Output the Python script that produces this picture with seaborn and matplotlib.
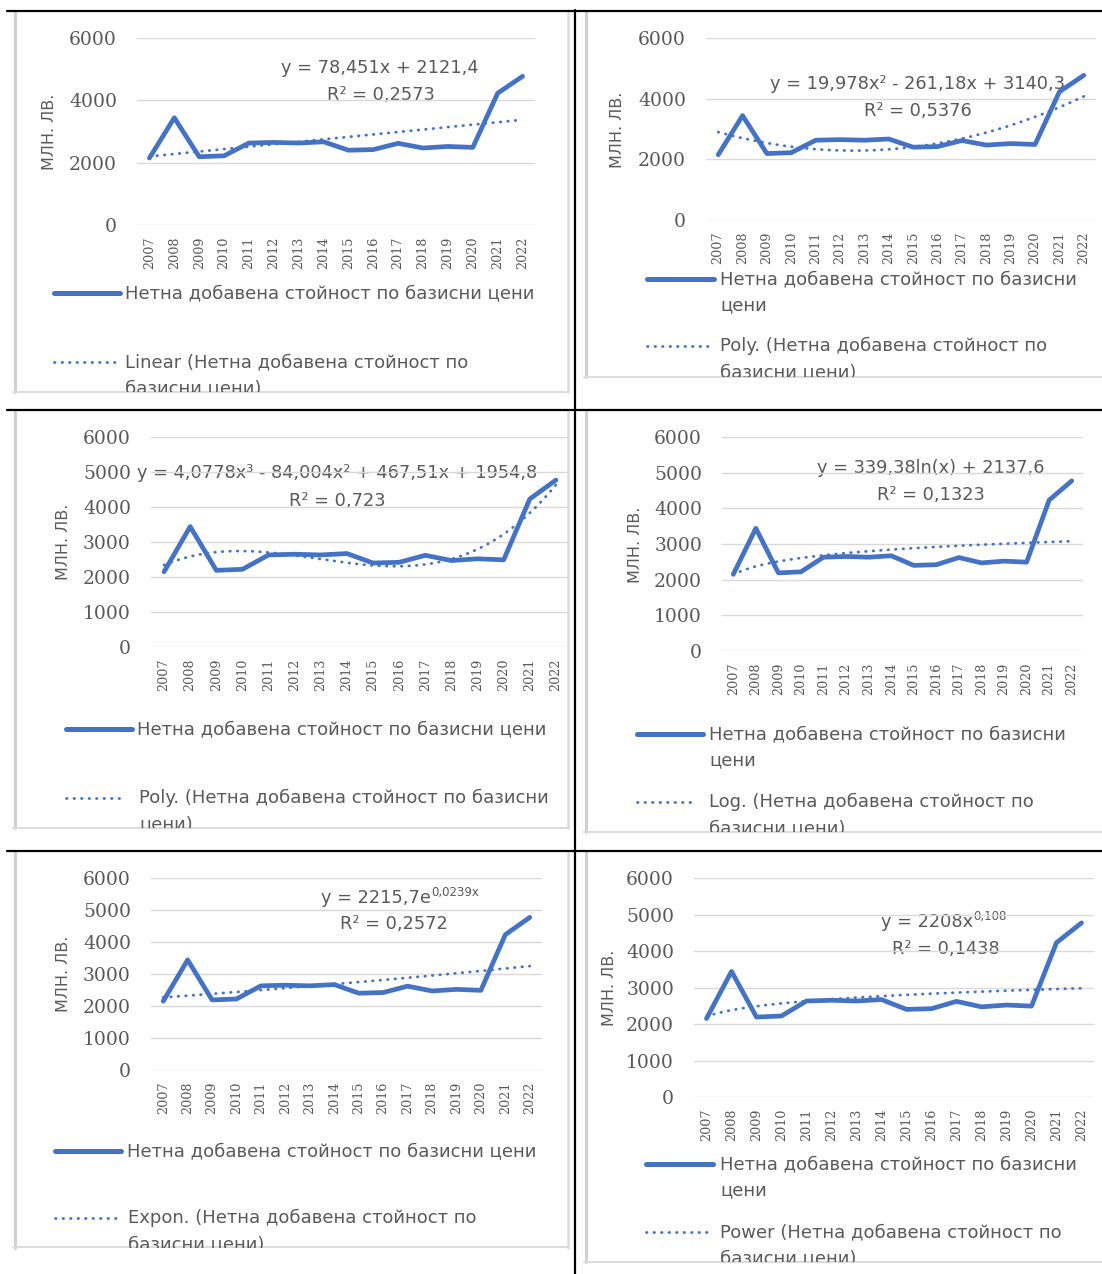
import numpy as np
import pandas as pd
import matplotlib
matplotlib.use('Agg')
import matplotlib.pyplot as plt
import seaborn as sns

# ---------------- data ----------------
years = list(range(2007, 2023))
net_value = [2150, 3440, 2190, 2220, 2630, 2650, 2630, 2670,
             2400, 2420, 2620, 2470, 2520, 2490, 4230, 4770]

# trendline coefficients as printed on the charts (x = 1..16)
linear_coef = [78.451, 2121.4]
poly2_coef = [19.978, -261.18, 3140.3]
poly3_coef = [4.0778, -84.004, 467.51, 1954.8]
log_coef = [339.38, 2137.6]
expon_coef = [2215.7, 0.0239]
power_coef = [2208, 0.108]

trend_kinds = ['linear', 'poly2', 'poly3', 'log', 'expon', 'power']
eq_base = ['y = 78,451x + 2121,4',
           'y = 19,978x² - 261,18x + 3140,3',
           'y = 4,0778x³ - 84,004x² + 467,51x + 1954,8',
           'y = 339,38ln(x) + 2137,6',
           'y = 2215,7e',
           'y = 2208x']
eq_sup = ['', '', '', '', '0,0239x', '0,108']
r2_text = ['R² = 0,2573', 'R² = 0,5376', 'R² = 0,723',
           'R² = 0,1323', 'R² = 0,2572', 'R² = 0,1438']

series_label = ['Нетна добавена стойност по базисни цени',
                'Нетна добавена стойност по базисни\nцени',
                'Нетна добавена стойност по базисни цени',
                'Нетна добавена стойност по базисни\nцени',
                'Нетна добавена стойност по базисни цени',
                'Нетна добавена стойност по базисни\nцени']
trend_label = ['Linear (Нетна добавена стойност по\nбазисни цени)',
               'Poly. (Нетна добавена стойност по\nбазисни цени)',
               'Poly. (Нетна добавена стойност по базисни\nцени)',
               'Log. (Нетна добавена стойност по\nбазисни цени)',
               'Expon. (Нетна добавена стойност по\nбазисни цени)',
               'Power (Нетна добавена стойност по\nбазисни цени)']
y_title = 'МЛН. ЛВ.'

# ---------------- layout (pixels, origin top-left) ----------------
W, H = 1102, 1274
panels = [
    dict(frame=(13, 12, 569, 392), plot=(137, 38, 535, 225), step=2000,
         ylab=(49, 132), eq=(380, 68), r2=(381, 95),
         solid=(54, 120, 293, 125), dotted=(54, 116, 362, 125)),
    dict(frame=(584, 12, 1104, 377), plot=(706, 38, 1096, 220), step=2000,
         ylab=(618, 130), eq=(918, 84), r2=(918, 111),
         solid=(647, 714, 279, 720), dotted=(647, 709, 346, 720)),
    dict(frame=(13, 411, 569, 828), plot=(151, 437, 569, 647), step=1000,
         ylab=(64, 542), eq=(337, 473), r2=(337, 501),
         solid=(66, 132, 729, 137), dotted=(66, 126, 798, 139)),
    dict(frame=(584, 411, 1104, 832), plot=(722, 437, 1083, 651), step=1000,
         ylab=(635, 545), eq=(931, 468), r2=(931, 495),
         solid=(637, 703, 734, 709), dotted=(637, 697, 802, 709)),
    dict(frame=(13, 852, 569, 1248), plot=(151, 878, 542, 1070), step=1000,
         ylab=(64, 974), eq=(394, 898), r2=(394, 924),
         solid=(55, 121, 1151, 127), dotted=(55, 117, 1218, 128)),
    dict(frame=(584, 852, 1104, 1262), plot=(694, 878, 1094, 1097), step=1000,
         ylab=(609, 988), eq=(945, 922), r2=(946, 949),
         solid=(646, 713, 1164, 720), dotted=(646, 708, 1232, 720)),
]

BLUE = '#4472C4'
GREY_TXT = '#595959'
LEG_FS = 13.0
EQ_FS = 12.8
LINE_H = 26.5
DOTS = (0, (0.2, 2.5))


def rect(x0, y0, x1, y1):
    return [x0 / W, 1 - y1 / H, (x1 - x0) / W, (y1 - y0) / H]


def trend_values(kind, t):
    if kind == 'linear':
        return np.polyval(linear_coef, t)
    if kind == 'poly2':
        return np.polyval(poly2_coef, t)
    if kind == 'poly3':
        return np.polyval(poly3_coef, t)
    if kind == 'log':
        return log_coef[0] * np.log(t) + log_coef[1]
    if kind == 'expon':
        return expon_coef[0] * np.exp(expon_coef[1] * t)
    return power_coef[0] * t ** power_coef[1]


sns.set_style('white')
plt.rcParams['font.family'] = ['DejaVu Sans']

fig = plt.figure(figsize=(W / 100, H / 100), dpi=100)
fig.patch.set_facecolor('white')

df = pd.DataFrame({'year': years, 'value': net_value})
t = np.linspace(1, 16, 200)

for i, p in enumerate(panels):
    fx0, fy0, fx1, fy1 = p['frame']
    # chart area (pixel coordinates)
    fax = fig.add_axes(rect(fx0, fy0, fx1, fy1))
    fax.set_xlim(fx0, fx1)
    fax.set_ylim(fy1, fy0)
    fax.axis('off')
    fax.plot([fx0 + 1.5, fx0 + 1.5], [fy0, fy1], color='#D0D0D0', lw=2.2, clip_on=False)
    fax.plot([fx0, fx1], [fy1 - 0.5, fy1 - 0.5], color='#DCDCDC', lw=1.4, clip_on=False)
    if fx1 < W:
        fax.plot([fx1 - 1, fx1 - 1], [fy0, fy1], color='#DCDCDC', lw=1.8, clip_on=False)

    # plot area
    px0, py0, px1, py1 = p['plot']
    ax = fig.add_axes(rect(px0, py0, px1, py1))
    ax.patch.set_alpha(0)
    sns.lineplot(data=df, x='year', y='value', ax=ax, color=BLUE, lw=3.4,
                 solid_capstyle='round', solid_joinstyle='round')
    trend = pd.DataFrame({'year': 2006 + t, 'value': trend_values(trend_kinds[i], t)})
    sns.lineplot(data=trend, x='year', y='value', ax=ax, color=BLUE, lw=2.0,
                 linestyle=DOTS, dash_capstyle='round')
    ax.set_xlim(2006.5, 2022.5)
    ax.set_ylim(0, 6000)
    yt = np.arange(0, 6001, p['step'])
    ax.set_yticks(yt, labels=[str(v) for v in yt], fontfamily='DejaVu Serif',
                  fontsize=13.5, color=GREY_TXT)
    ax.set_xticks(years, labels=[str(y) for y in years], rotation=90,
                  fontfamily='DejaVu Serif', fontsize=9.2, color=GREY_TXT)
    ax.tick_params(axis='y', length=0, pad=14.4)
    ax.tick_params(axis='x', length=0, pad=8.4)
    ax.grid(axis='y', color='#D9D9D9', lw=1.0)
    ax.set_axisbelow(True)
    sns.despine(ax=ax, left=True, bottom=True, top=True, right=True)
    ax.set_xlabel('')
    ax.set_ylabel(y_title, fontsize=11.5, color=GREY_TXT)
    lx, ly = p['ylab']
    ax.yaxis.set_label_coords((lx - px0) / (px1 - px0), (py1 - ly) / (py1 - py0))
    ax.yaxis.label.set_va('center')

    # trendline equation
    ex, ey = p['eq']
    if eq_sup[i]:
        base = fax.text(ex - 18, ey, eq_base[i], ha='center', va='center',
                        fontsize=EQ_FS, color=GREY_TXT)
        fax.annotate(eq_sup[i], xy=(1, 0.42), xycoords=base, ha='left', va='bottom',
                     fontsize=8.5, color=GREY_TXT)
    else:
        fax.text(ex, ey, eq_base[i], ha='center', va='center',
                 fontsize=EQ_FS, color=GREY_TXT)
    rx, ry = p['r2']
    fax.text(rx, ry, r2_text[i], ha='center', va='center', fontsize=EQ_FS, color=GREY_TXT)

    # legend
    sx0, sx1, sy, stx = p['solid']
    fax.plot([sx0, sx1], [sy, sy], color=BLUE, lw=3.6, solid_capstyle='round')
    for k, line in enumerate(series_label[i].split('\n')):
        fax.text(stx, sy + k * LINE_H, line, ha='left', va='center',
                 fontsize=LEG_FS, color=GREY_TXT, clip_on=True)
    dx0, dx1, dy, dtx = p['dotted']
    fax.plot([dx0, dx1], [dy, dy], color=BLUE, lw=2.0,
             linestyle=DOTS, dash_capstyle='round')
    for k, line in enumerate(trend_label[i].split('\n')):
        fax.text(dtx, dy + k * LINE_H, line, ha='left', va='center',
                 fontsize=LEG_FS, color=GREY_TXT, clip_on=True)

# table borders
tax = fig.add_axes([0, 0, 1, 1])
tax.set_xlim(0, W)
tax.set_ylim(H, 0)
tax.axis('off')
tax.patch.set_alpha(0)
for yb in [11, 410, 851]:
    tax.plot([7, W], [yb, yb], color='black', lw=1.6)
tax.plot([575, 575], [10, H], color='black', lw=1.6)

fig.savefig('out.png', dpi=100)
